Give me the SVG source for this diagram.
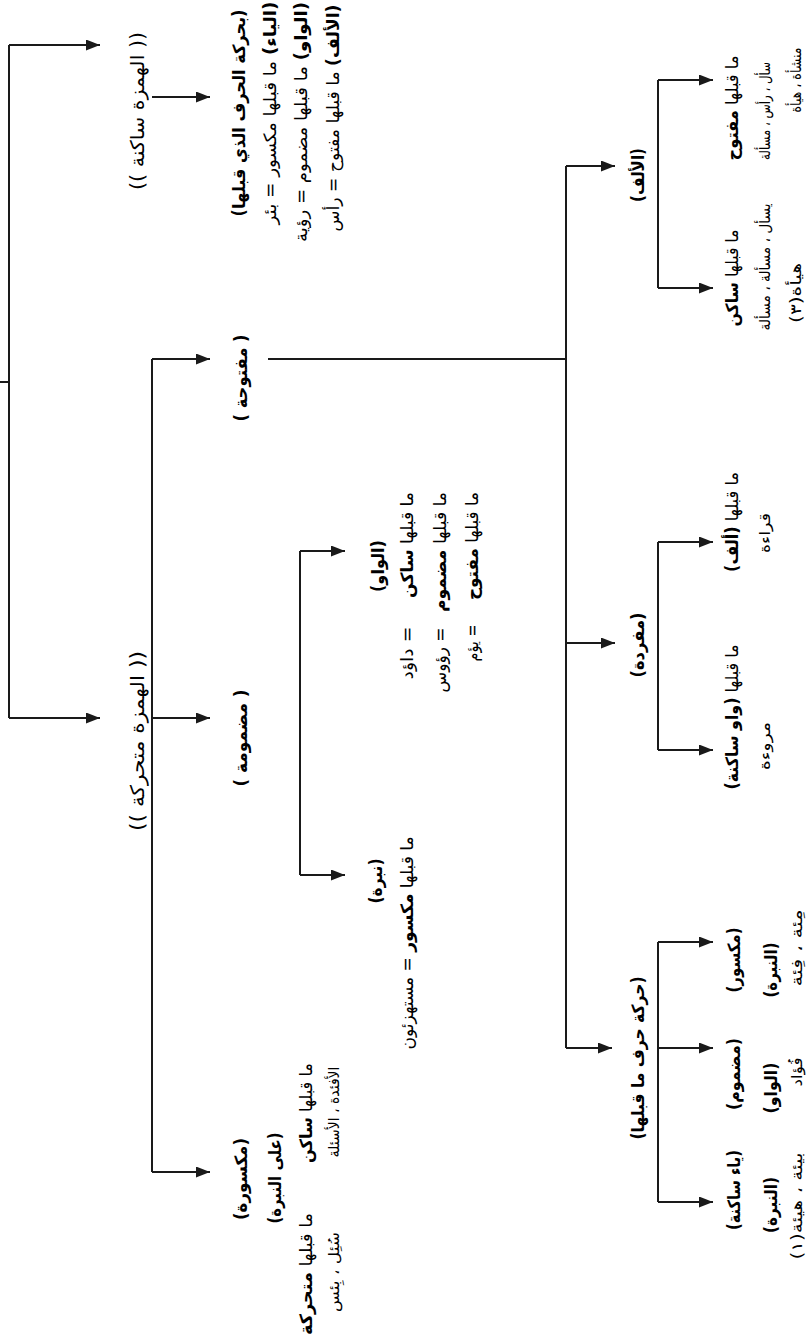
<svg xmlns="http://www.w3.org/2000/svg" width="810" height="1340" viewBox="0 0 810 1340">
<style>
text{font-family:"DejaVu Sans",sans-serif;font-size:17px;fill:#000;direction:rtl;text-anchor:middle;}
.b{font-weight:bold;}
.big{font-size:19px;}
.sm{font-size:15px;}
.ln{fill:none;stroke:#1a1a1a;stroke-width:2;}
.ar{marker-end:url(#ah);}
</style>
<defs>
<marker id="ah" markerWidth="14" markerHeight="11" refX="14" refY="5.5" orient="auto" markerUnits="userSpaceOnUse"><path d="M0,0 L14,5.5 L0,11 z" fill="#1a1a1a"/></marker>
</defs>
<rect width="810" height="1340" fill="#fff"/>
<g id="connectors">
<path class="ln" d="M0,382 H9 M9,45 V718"/>
<path class="ln ar" d="M9,45 H100"/>
<path class="ln ar" d="M9,718 H100"/>
<path class="ln ar" d="M152,97 H210"/>
<path class="ln" d="M152,359 V1172"/>
<path class="ln ar" d="M152,359 H210"/>
<path class="ln ar" d="M152,718 H210"/>
<path class="ln ar" d="M152,1172 H210"/>
<path class="ln" d="M268,359 H566 M566,166 V1048"/>
<path class="ln ar" d="M566,166 H615"/>
<path class="ln ar" d="M566,643 H615"/>
<path class="ln ar" d="M566,1048 H612"/>
<path class="ln" d="M658,80 V288"/>
<path class="ln ar" d="M658,80 H713"/>
<path class="ln ar" d="M658,288 H713"/>
<path class="ln" d="M658,542 V750"/>
<path class="ln ar" d="M658,542 H713"/>
<path class="ln ar" d="M658,750 H713"/>
<path class="ln" d="M658,942 V1202"/>
<path class="ln ar" d="M658,942 H713"/>
<path class="ln ar" d="M658,1048 H713"/>
<path class="ln ar" d="M658,1202 H713"/>
<path class="ln" d="M300,551 V875"/>
<path class="ln ar" d="M300,551 H345"/>
<path class="ln ar" d="M300,875 H345"/>
</g>
<g id="n-sakina">
<text class="big" transform="translate(144,111) rotate(-90)" textLength="158" lengthAdjust="spacingAndGlyphs">(( الهمزة ساكنة ))</text>
</g>
<g id="n-sakina-rules">
<text class="b" transform="translate(245,113) rotate(-90)" textLength="207" lengthAdjust="spacingAndGlyphs">(بحركة الحرف الذي قبلها)</text>
<text transform="translate(276,113) rotate(-90)" textLength="223" lengthAdjust="spacingAndGlyphs"><tspan class="b">(الياء)</tspan> ما قبلها مكسور = بئر</text>
<text transform="translate(307,122) rotate(-90)" textLength="240" lengthAdjust="spacingAndGlyphs"><tspan class="b">(الواو)</tspan> ما قبلها مضموم = رؤية</text>
<text transform="translate(339,118) rotate(-90)" textLength="227" lengthAdjust="spacingAndGlyphs"><tspan class="b">(الألف)</tspan> ما قبلها مفتوح = رأس</text>
</g>
<g id="n-mutaharrika">
<text class="big" transform="translate(144,741) rotate(-90)" textLength="180" lengthAdjust="spacingAndGlyphs">(( الهمزة متحركة ))</text>
</g>
<g id="n-maftuha">
<text class="b" transform="translate(247,378) rotate(-90)" textLength="87" lengthAdjust="spacingAndGlyphs">( مفتوحة )</text>
</g>
<g id="n-madmuma">
<text class="b" transform="translate(247,738) rotate(-90)" textLength="97" lengthAdjust="spacingAndGlyphs">( مضمومة )</text>
</g>
<g id="n-maksura">
<text class="b" transform="translate(247,1179) rotate(-90)" textLength="82" lengthAdjust="spacingAndGlyphs">(مكسورة)</text>
<text class="b" transform="translate(281,1178) rotate(-90)" textLength="91" lengthAdjust="spacingAndGlyphs">(على النبرة)</text>
<text transform="translate(312,1113) rotate(-90)" textLength="100" lengthAdjust="spacingAndGlyphs">ما قبلها <tspan class="b">ساكن</tspan></text>
<text class="sm" transform="translate(339,1112) rotate(-90)" textLength="91" lengthAdjust="spacingAndGlyphs">الأفئدة ، الأسئلة</text>
<text transform="translate(312,1274) rotate(-90)" textLength="122" lengthAdjust="spacingAndGlyphs">ما قبلها <tspan class="b">متحركة</tspan></text>
<text class="sm" transform="translate(339,1272) rotate(-90)" textLength="80" lengthAdjust="spacingAndGlyphs">سُئِل ، بِئس</text>
</g>
<g id="n-nabra-madmuma">
<text class="b" transform="translate(382,881) rotate(-90)" textLength="45" lengthAdjust="spacingAndGlyphs">(نبرة)</text>
<text transform="translate(413,943) rotate(-90)" textLength="213" lengthAdjust="spacingAndGlyphs">ما قبلها <tspan class="b">مكسور</tspan> = مستهزئون</text>
</g>
<g id="n-waw-madmuma">
<text class="b" transform="translate(384,566) rotate(-90)" textLength="52" lengthAdjust="spacingAndGlyphs">(الواو)</text>
<text transform="translate(413,545) rotate(-90)" textLength="106" lengthAdjust="spacingAndGlyphs">ما قبلها <tspan class="b">ساكن</tspan></text>
<text transform="translate(413,653) rotate(-90)" textLength="53" lengthAdjust="spacingAndGlyphs">= داؤد</text>
<text transform="translate(446,552) rotate(-90)" textLength="120" lengthAdjust="spacingAndGlyphs">ما قبلها <tspan class="b">مضموم</tspan></text>
<text transform="translate(446,660) rotate(-90)" textLength="65" lengthAdjust="spacingAndGlyphs">= رؤوس</text>
<text transform="translate(478,546) rotate(-90)" textLength="108" lengthAdjust="spacingAndGlyphs">ما قبلها <tspan class="b">مفتوح</tspan></text>
<text transform="translate(478,643) rotate(-90)" textLength="37" lengthAdjust="spacingAndGlyphs">= يؤم</text>
</g>
<g id="n-alif">
<text class="b" transform="translate(644,175) rotate(-90)" textLength="54" lengthAdjust="spacingAndGlyphs">(الألف)</text>
</g>
<g id="n-alif-maftuh">
<text transform="translate(738,108) rotate(-90)" textLength="105" lengthAdjust="spacingAndGlyphs">ما قبلها <tspan class="b">مفتوح</tspan></text>
<text class="sm" transform="translate(770,111) rotate(-90)" textLength="98" lengthAdjust="spacingAndGlyphs">سأل ، رأس ، مسألة</text>
<text class="sm" transform="translate(801,80) rotate(-90)" textLength="65" lengthAdjust="spacingAndGlyphs">منشأة ، هيأة</text>
</g>
<g id="n-alif-sakin">
<text transform="translate(738,278) rotate(-90)" textLength="97" lengthAdjust="spacingAndGlyphs">ما قبلها <tspan class="b">ساكن</tspan></text>
<text class="sm" transform="translate(770,267) rotate(-90)" textLength="127" lengthAdjust="spacingAndGlyphs">يسأل ، مسألة ، مسألة</text>
<text class="sm" transform="translate(801,293) rotate(-90)" textLength="60" lengthAdjust="spacingAndGlyphs">هيأة(٣)</text>
</g>
<g id="n-mufrada">
<text class="b" transform="translate(644,645) rotate(-90)" textLength="65" lengthAdjust="spacingAndGlyphs">(مفردة)</text>
</g>
<g id="n-mufrada-alif">
<text transform="translate(738,522) rotate(-90)" textLength="100" lengthAdjust="spacingAndGlyphs">ما قبلها <tspan class="b">(ألف)</tspan></text>
<text class="sm" transform="translate(770,533) rotate(-90)" textLength="40" lengthAdjust="spacingAndGlyphs">قراءة</text>
</g>
<g id="n-mufrada-waw">
<text transform="translate(738,717) rotate(-90)" textLength="145" lengthAdjust="spacingAndGlyphs">ما قبلها <tspan class="b">(واو ساكنة)</tspan></text>
<text class="sm" transform="translate(770,746) rotate(-90)" textLength="48" lengthAdjust="spacingAndGlyphs">مروءة</text>
</g>
<g id="n-haraka">
<text class="b" transform="translate(644,1058) rotate(-90)" textLength="163" lengthAdjust="spacingAndGlyphs">(حركة حرف ما قبلها)</text>
</g>
<g id="n-haraka-maksur">
<text class="b" transform="translate(740,960) rotate(-90)" textLength="65" lengthAdjust="spacingAndGlyphs">(مكسور)</text>
<text class="b" transform="translate(777,970) rotate(-90)" textLength="55" lengthAdjust="spacingAndGlyphs">(النبرة)</text>
<text class="sm" transform="translate(802,948) rotate(-90)" textLength="77" lengthAdjust="spacingAndGlyphs">مِئة ، فِئة</text>
</g>
<g id="n-haraka-madmum">
<text class="b" transform="translate(740,1074) rotate(-90)" textLength="72" lengthAdjust="spacingAndGlyphs">(مضموم)</text>
<text class="b" transform="translate(777,1088) rotate(-90)" textLength="51" lengthAdjust="spacingAndGlyphs">(الواو)</text>
<text class="sm" transform="translate(802,1072) rotate(-90)" textLength="29" lengthAdjust="spacingAndGlyphs">فُؤاد</text>
</g>
<g id="n-haraka-ya">
<text class="b" transform="translate(740,1190) rotate(-90)" textLength="80" lengthAdjust="spacingAndGlyphs">(ياء ساكنة)</text>
<text class="b" transform="translate(777,1205) rotate(-90)" textLength="56" lengthAdjust="spacingAndGlyphs">(النبرة)</text>
<text class="sm" transform="translate(802,1206) rotate(-90)" textLength="107" lengthAdjust="spacingAndGlyphs">بيئة ، هيئة(١)</text>
</g>
</svg>
